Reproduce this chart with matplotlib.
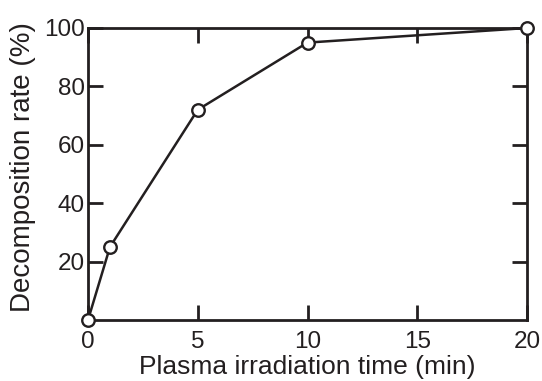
import matplotlib
matplotlib.use("Agg")
import matplotlib.pyplot as plt

time_min = [0, 1, 5, 10, 20]
decomp_rate = [0, 25, 72, 95, 100]
x_ticks = [0, 5, 10, 15, 20]
y_ticks = [20, 40, 60, 80, 100]

plt.rcParams['font.family'] = ['Liberation Sans', 'DejaVu Sans']

fig = plt.figure(figsize=(5.42, 3.81), dpi=100)
ax = fig.add_axes([88/542, 1 - 320/381, (527-88)/542, (320-28)/381])

ax.plot(time_min, decomp_rate, color='#231f20', lw=1.8, marker='o', ms=9,
        mfc='white', mec='#231f20', mew=1.7, clip_on=False, zorder=5)

ax.set_xlim(0, 20)
ax.set_ylim(0, 100)
ax.set_xticks(x_ticks)
ax.set_yticks(y_ticks)
ax.tick_params(direction='in', length=10.5, width=2.0, color='#231f20',
               labelsize=17.5, top=True, right=True, labelcolor='#231f20')
ax.tick_params(axis='x', pad=8)
ax.tick_params(axis='y', pad=2.5)
for s in ax.spines.values():
    s.set_linewidth(2.0)
    s.set_color('#231f20')
ax.set_xlabel('Plasma irradiation time (min)', fontsize=19, color='#231f20', labelpad=1.5)
ax.set_ylabel('Decomposition rate (%)', fontsize=20, color='#231f20')
ax.yaxis.set_label_coords((36-88)/439, (320-167)/292)

fig.savefig('out.png', dpi=100)
